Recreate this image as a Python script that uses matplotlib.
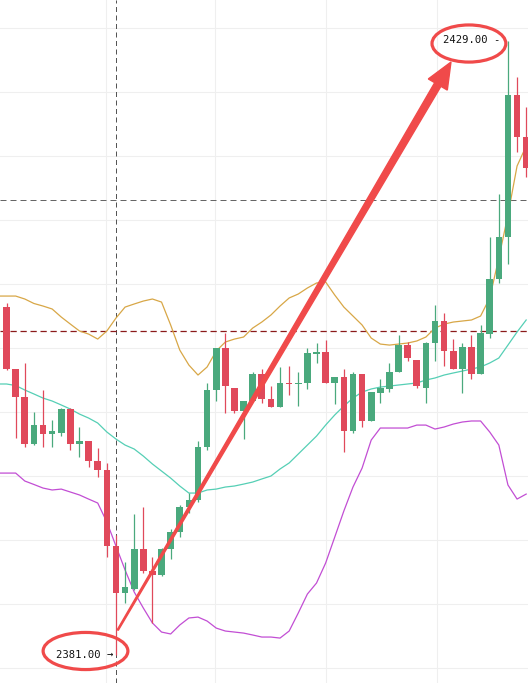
import numpy as np
import matplotlib
matplotlib.use('Agg')
import matplotlib.pyplot as plt
from matplotlib.patches import Ellipse, Polygon
from matplotlib.transforms import IdentityTransform

# candles, oldest first
opens = [2408.2, 2403.4, 2401.2, 2397.5, 2399.0, 2398.3, 2398.4, 2400.2, 2397.5, 2397.7,
         2396.2, 2395.5, 2389.5, 2385.9, 2386.2, 2389.3, 2387.6, 2387.3, 2389.3, 2390.6,
         2392.6, 2393.1, 2397.3, 2401.7, 2405.0, 2401.9, 2400.1, 2400.9, 2403.0, 2401.0,
         2400.4, 2402.3, 2402.2, 2402.3, 2404.5, 2404.7, 2402.3, 2402.7, 2398.5, 2403.0,
         2399.3, 2401.5, 2401.8, 2403.1, 2405.2, 2404.1, 2401.9, 2405.4, 2407.1, 2404.8,
         2403.4, 2405.1, 2403.0, 2406.1, 2410.4, 2413.7, 2424.8, 2421.5]
highs = [2408.5, 2403.4, 2403.8, 2400.0, 2401.7, 2399.4, 2400.3, 2400.3, 2398.8, 2397.7,
         2397.2, 2396.0, 2390.4, 2388.3, 2392.0, 2392.6, 2388.7, 2389.4, 2390.9, 2392.7,
         2393.7, 2397.7, 2402.3, 2405.0, 2406.2, 2401.9, 2400.9, 2403.1, 2403.4, 2402.0,
         2403.5, 2403.6, 2403.1, 2405.0, 2405.4, 2405.6, 2402.7, 2403.4, 2403.1, 2403.0,
         2401.6, 2402.6, 2403.8, 2406.0, 2405.5, 2404.1, 2405.5, 2408.4, 2407.7, 2405.7,
         2405.4, 2406.0, 2406.8, 2413.7, 2417.0, 2429.0, 2426.2, 2423.8]
lows = [2403.3, 2398.0, 2397.3, 2397.4, 2397.3, 2397.3, 2398.1, 2397.0, 2396.5, 2395.7,
        2394.9, 2388.7, 2381.0, 2385.1, 2386.1, 2387.4, 2383.5, 2387.2, 2388.5, 2390.2,
        2392.1, 2393.0, 2397.0, 2400.9, 2399.9, 2399.9, 2397.9, 2400.9, 2400.7, 2400.4,
        2400.4, 2401.3, 2400.5, 2401.8, 2403.8, 2402.3, 2400.6, 2396.9, 2398.4, 2398.8,
        2399.3, 2400.7, 2401.6, 2403.1, 2404.0, 2401.9, 2400.7, 2404.0, 2403.6, 2403.4,
        2401.5, 2402.6, 2403.0, 2405.8, 2410.1, 2411.6, 2420.3, 2418.4]
closes = [2403.4, 2401.2, 2397.5, 2399.0, 2398.3, 2398.5, 2400.2, 2397.5, 2397.7, 2396.2,
          2395.5, 2389.5, 2385.9, 2386.3, 2389.3, 2387.6, 2387.3, 2389.3, 2390.6, 2392.6,
          2393.1, 2397.3, 2401.7, 2405.0, 2402.0, 2400.1, 2400.9, 2403.0, 2401.0, 2400.4,
          2402.3, 2402.2, 2402.3, 2404.6, 2404.7, 2402.3, 2402.7, 2398.5, 2403.0, 2399.3,
          2401.6, 2401.9, 2403.1, 2405.2, 2404.2, 2402.0, 2405.4, 2407.1, 2404.8, 2403.4,
          2405.1, 2403.0, 2406.2, 2410.4, 2413.7, 2424.8, 2421.5, 2419.1]

# bollinger bands, start one bar before the first candle
bb_upper = [2409.06, 2409.06, 2409.06, 2408.83, 2408.48, 2408.28, 2408.05, 2407.42, 2406.87, 2406.33,
            2406.09, 2405.70, 2406.33, 2407.34, 2408.20, 2408.44, 2408.67, 2408.83, 2408.59, 2406.80,
            2404.84, 2403.67, 2402.89, 2403.52, 2404.77, 2405.47, 2405.70, 2405.86, 2406.56, 2407.03,
            2407.58, 2408.28, 2408.91, 2409.22, 2409.69, 2410.08, 2410.16, 2409.14, 2408.20, 2407.50,
            2406.80, 2405.78, 2405.31, 2405.23, 2405.31, 2405.39, 2405.55, 2405.86, 2406.56, 2406.87,
            2407.03, 2407.11, 2407.19, 2407.50, 2408.91, 2412.03, 2415.39, 2419.22, 2420.78]
bb_mid = [2402.19, 2402.19, 2402.07, 2401.72, 2401.41, 2401.09, 2400.86, 2400.55, 2400.23, 2399.84,
          2399.53, 2399.14, 2398.44, 2397.89, 2397.42, 2397.11, 2396.56, 2395.94, 2395.39, 2394.84,
          2394.22, 2393.67, 2393.67, 2393.91, 2393.98, 2394.14, 2394.22, 2394.37, 2394.53, 2394.77,
          2395.00, 2395.55, 2396.02, 2396.72, 2397.42, 2398.12, 2398.98, 2399.77, 2400.47, 2401.09,
          2401.56, 2401.80, 2401.95, 2402.03, 2402.11, 2402.19, 2402.27, 2402.50, 2402.66, 2402.89,
          2403.05, 2403.20, 2403.36, 2403.52, 2403.83, 2404.22, 2405.23, 2406.25, 2407.19]
bb_lower = [2395.23, 2395.23, 2395.23, 2394.61, 2394.34, 2394.06, 2393.91, 2393.98, 2393.75, 2393.52,
            2393.20, 2392.89, 2391.41, 2389.53, 2387.66, 2385.94, 2384.69, 2383.52, 2382.81, 2382.66,
            2383.36, 2383.91, 2383.98, 2383.67, 2383.12, 2382.89, 2382.81, 2382.73, 2382.58, 2382.42,
            2382.42, 2382.34, 2382.89, 2384.30, 2385.78, 2386.64, 2388.20, 2390.23, 2392.27, 2394.14,
            2395.62, 2397.81, 2398.75, 2398.75, 2398.75, 2398.75, 2398.98, 2398.98, 2398.67, 2398.83,
            2399.06, 2399.22, 2399.30, 2399.30, 2398.44, 2397.42, 2394.30, 2393.20, 2393.59]

low_idx, low_price = 12, 2381.00
high_idx, high_price = 55, 2429.00
hline_gray = 2416.6
hline_red = 2406.3

GREEN = '#4aa97d'
RED = '#e0495b'
MARK = '#f04a4a'

fig = plt.figure(figsize=(5.28, 6.83), dpi=100)
ax = fig.add_axes([0, 0, 1, 1])
ax.set_xlim(-0.72, 57.2)
ax.set_ylim(2378.83, 2432.19)
ax.axis('off')

# grid
for p in np.arange(2380, 2431, 5):
    ax.axhline(p, color='#efefef', lw=0.8, zorder=0)
for gx in [10.9, 22.9, 35.0, 47.2]:
    ax.axvline(gx, color='#efefef', lw=0.8, zorder=0)

# crosshair + price lines
ax.axvline(low_idx, color='#555555', lw=0.72, ls=(0, (5, 3.5)), zorder=1)
ax.axhline(hline_gray, color='#666666', lw=0.72, ls=(0, (6, 4)), zorder=1)
ax.axhline(hline_red, color='#8b1a1a', lw=0.9, ls=(0, (5, 3)), zorder=1)

# bands
bx = np.arange(-1, len(bb_upper) - 1)
ax.plot(bx, bb_upper, color='#d8a747', lw=0.9, zorder=2)
ax.plot(bx, bb_mid, color='#55cfb5', lw=0.9, zorder=2)
ax.plot(bx, bb_lower, color='#c24ed4', lw=0.9, zorder=2)

# candles
o = np.array(opens); c = np.array(closes)
h = np.array(highs); l = np.array(lows)
x = np.arange(len(o))
cols = [GREEN if cc >= oo else RED for oo, cc in zip(o, c)]
ax.vlines(x, l, h, colors=cols, lw=0.9, zorder=3)
body = np.maximum(np.abs(c - o), 0.09)
ax.bar(x, body, bottom=np.minimum(o, c), width=0.73, color=cols, zorder=4)

# tapered arrow from the low to the high label
fig.canvas.draw()
p0 = ax.transData.transform((low_idx + 0.2, 2382.97))
p1 = ax.transData.transform((48.75, 2427.34))
d = p1 - p0
u = d / np.hypot(*d)
n = np.array([-u[1], u[0]])
head_len, head_w = 26, 11
pb = p1 - u * head_len
w0, w1 = 0.6, 3.6
pts = [p0 + n * w0, pb + n * w1, pb + n * head_w, p1,
       pb - n * head_w, pb - n * w1, p0 - n * w0]
ax.add_patch(Polygon(pts, closed=True, color=MARK, transform=IdentityTransform(), zorder=6))

# labels with circles
ax.text(low_idx - 0.33, low_price + 0.05, f'{low_price:.2f} →', ha='right', va='center',
        fontsize=7.6, family='DejaVu Sans Mono', color='#111111', zorder=7)
ax.text(high_idx - 0.85, high_price + 0.05, f'{high_price:.2f} -', ha='right', va='center',
        fontsize=7.6, family='DejaVu Sans Mono', color='#111111', zorder=7)
ax.add_patch(Ellipse((8.66, 2381.33), 9.3, 2.9, fill=False, ec=MARK, lw=2.3, zorder=7))
ax.add_patch(Ellipse((50.72, 2428.79), 8.1, 2.9, fill=False, ec=MARK, lw=2.3, zorder=7))

fig.savefig('out.png', dpi=100)
